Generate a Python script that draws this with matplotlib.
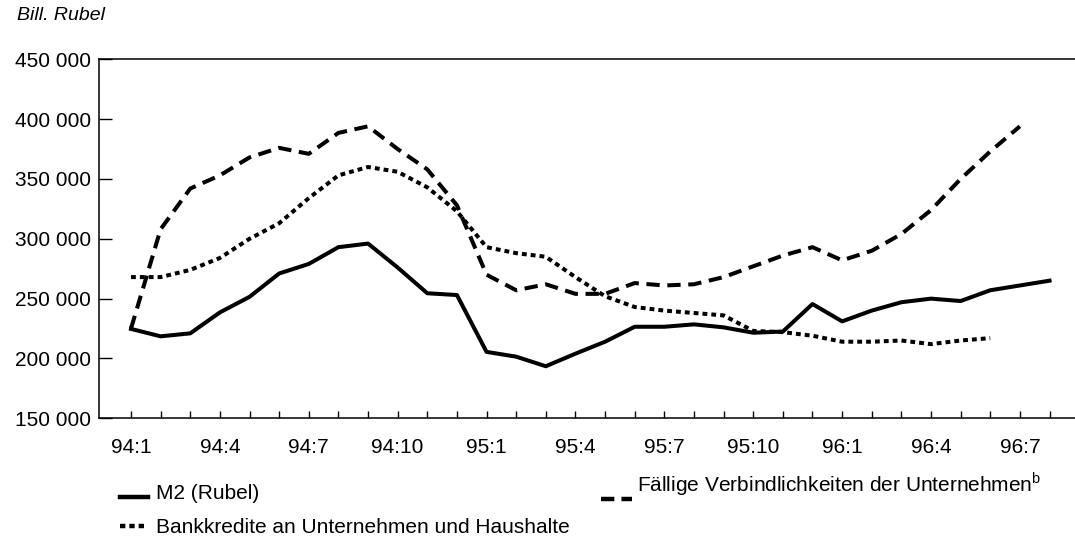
import numpy as np
import matplotlib
matplotlib.use('Agg')
import matplotlib.pyplot as plt
from matplotlib.lines import Line2D
from matplotlib.ticker import FuncFormatter

plt.rcParams['font.family'] = ['Liberation Sans', 'DejaVu Sans']
plt.rcParams['mathtext.fontset'] = 'custom'
plt.rcParams['mathtext.rm'] = 'Liberation Sans'

# monthly data 94:1 .. 96:8, Bill. Rubel
months = [f"{y}:{m}" for y in (94, 95, 96) for m in range(1, 13)][:32]

m2 = [224700, 218500, 221000, 238500, 251500, 271000, 279000, 293000,
      296000, 276000, 254500, 253000, 205500, 201500, 193500, 204000,
      214000, 226500, 226500, 228500, 226000, 221500, 222500, 245500,
      231000, 240000, 247000, 250000, 248000, 257000, 261000, 265000]

faellige = [225000, 308000, 342000, 353000, 368000, 376000, 371000, 388500,
            394000, 375000, 358000, 328000, 270000, 257000, 262000, 254000,
            254000, 263000, 261000, 262000, 268000, 277000, 286000, 293000,
            282000, 290000, 304000, 324000, 350000, 373000, 394000]

kredite = [268000, 268000, 274000, 284000, 300000, 313000, 334000, 353000,
           360000, 356000, 343000, 323000, 293000, 288000, 285000, 268000,
           252000, 243000, 240000, 238000, 236000, 223000, 222000, 219000,
           214000, 214000, 215000, 212000, 215000, 217000]

W, H = 1075, 540
fig = plt.figure(figsize=(W / 100, H / 100), dpi=100)
ax = fig.add_axes([99.3 / W, 1 - 418.3 / H, (W - 99.3) / W, (418.3 - 59.3) / H])

lw = 2.9
ax.plot(np.arange(len(m2)), m2, color='black', lw=lw, solid_joinstyle='round')
ax.plot(np.arange(len(faellige)), faellige, color='black', lw=lw, dashes=(3.3, 1.9))
ax.plot(np.arange(len(kredite)), kredite, color='black', lw=lw, dashes=(1.2, 1.0))

ax.set_xlim(-1.07, 31.86)
ax.set_ylim(150000, 450000)

ax.set_xticks(np.arange(len(months)))
ax.set_xticklabels([mo if i % 3 == 0 else '' for i, mo in enumerate(months)])
ax.set_yticks(range(150000, 450001, 50000))
ax.yaxis.set_major_formatter(FuncFormatter(lambda v, p: f"{int(v):,}".replace(',', ' ')))

ax.tick_params(axis='x', direction='in', length=5, width=1, pad=14, labelsize=15)
ax.tick_params(axis='y', direction='in', length=9, width=1, pad=6, labelsize=15)
ax.spines['right'].set_visible(False)
for s in ('left', 'bottom', 'top'):
    ax.spines[s].set_linewidth(1.1)

fig.text(17 / W, 1 - 16 / H, 'Bill. Rubel', style='italic', fontsize=14, va='center')


def px(x, y):
    return x / W, 1 - y / H


# legend
fig.add_artist(Line2D([120 / W, 148 / W], [1 - 497 / H, 1 - 497 / H], color='black', lw=3.2))
fig.text(*px(156, 499), 'M2 (Rubel)', fontsize=15, va='baseline')
fig.add_artist(Line2D([120 / W, 148 / W], [1 - 526 / H, 1 - 526 / H], color='black', lw=3.2,
                      dashes=(1.2, 0.9)))
fig.text(*px(156, 533), 'Bankkredite an Unternehmen und Haushalte', fontsize=15, va='baseline')
fig.add_artist(Line2D([601 / W, 632 / W], [1 - 499 / H, 1 - 499 / H], color='black', lw=3.2,
                      dashes=(3.0, 1.6)))
fig.text(*px(637, 492), r'Fällige Verbindlichkeiten der Unternehmen$^{\mathrm{b}}$',
         fontsize=15, va='baseline')

fig.savefig('out.png', dpi=100)
